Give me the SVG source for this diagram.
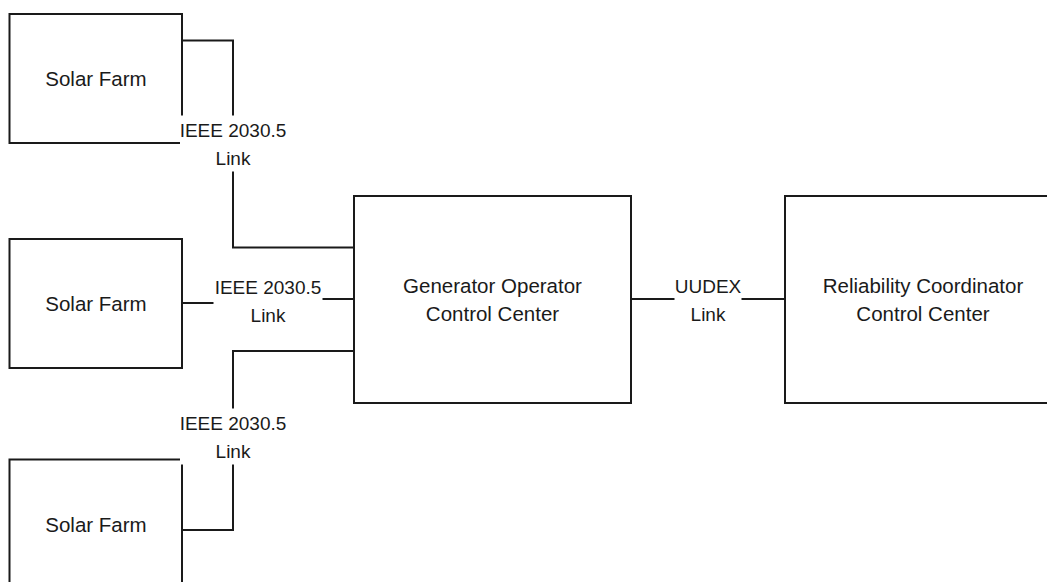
<svg xmlns="http://www.w3.org/2000/svg" width="1047" height="582" viewBox="0 0 1047 582">
<style>
.box{fill:#fff;stroke:#1a1a1a;stroke-width:2}
.wire{fill:none;stroke:#1a1a1a;stroke-width:2}
.bg{fill:#fff;stroke:none}
text{font-family:"Liberation Sans",Arial,sans-serif;font-size:20.5px;fill:#1a1a1a;text-anchor:middle}
.lbl{font-size:19px}
</style>
<rect width="1047" height="582" fill="#fff"/>
<g id="solar1"><rect class="box" x="9.5" y="14" width="172.5" height="129"/><text x="96" y="86">Solar Farm</text></g>
<g id="solar2"><rect class="box" x="9.5" y="239" width="172.5" height="129"/><text x="96" y="310.5">Solar Farm</text></g>
<g id="solar3"><rect class="box" x="9.5" y="459.5" width="172.5" height="130"/><text x="96" y="531.5">Solar Farm</text></g>
<g id="goc"><rect class="box" x="354" y="196" width="277" height="207"/><text x="492.5" y="293.3">Generator Operator</text><text x="492.5" y="320.5">Control Center</text></g>
<g id="rcc"><rect class="box" x="785" y="196" width="277" height="207"/><text x="923" y="293.3">Reliability Coordinator</text><text x="923" y="320.5">Control Center</text></g>
<g id="connectors">
<path class="wire" d="M182,40.5 H233 V247.5 H354"/>
<path class="wire" d="M182,303 H268 V299 H354"/>
<path class="wire" d="M182,530 H233 V351 H354"/>
<path class="wire" d="M631,299 H785"/>
<rect class="bg" x="180" y="115.5" width="106" height="56"/>
<text class="lbl" x="233" y="137">IEEE 2030.5</text><text class="lbl" x="233" y="165">Link</text>
<rect class="bg" x="213.5" y="279" width="109" height="50"/>
<text class="lbl" x="268" y="294">IEEE 2030.5</text><text class="lbl" x="268" y="321.5">Link</text>
<rect class="bg" x="180" y="408.5" width="106" height="56"/>
<text class="lbl" x="233" y="430">IEEE 2030.5</text><text class="lbl" x="233" y="457.5">Link</text>
<rect class="bg" x="674.5" y="279" width="67" height="50"/>
<text class="lbl" x="708" y="293.3">UUDEX</text><text class="lbl" x="708" y="320.5">Link</text>
</g>
</svg>
